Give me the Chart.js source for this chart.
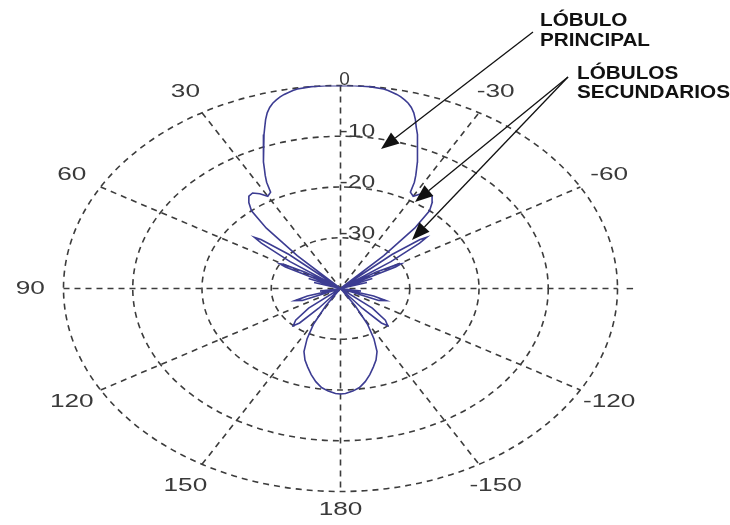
<!DOCTYPE html>
<html>
<head>
<meta charset="utf-8">
<script src="https://cdn.jsdelivr.net/npm/chart.js@4.4.1/dist/chart.umd.min.js"></script>
<style>
  html, body { margin: 0; padding: 0; background: #fff; }
  #wrap { width: 730px; height: 525px; }
</style>
</head>
<body>
<div id="wrap"><canvas id="c" width="730" height="525"></canvas></div>
<script>
// Radiation pattern: angle in degrees (0 = boresight, counter-clockwise positive)
const angleDeg = [
  -180, -178, -175, -172, -169, -166, -163, -160, -157, -154, -151, -148, -145,
  -143, -141, -139, -137, -134, -130, -126,
  -116, -113, -110, -107, -103, -100, -96,
  -76, -73, -70, -67, -64,
  -62, -61, -60, -58, -56, -54, -52, -51, -50, -48, -46,
  -44, -42, -40, -38, -36, -34, -32, -30, -28,
  -27, -26, -25, -24, -23, -22, -21, -20, -19, -18, -17, -16, -15, -14, -13, -12, -11, -10, -9, -6, -3,
  0,
  3, 6, 9, 10, 11, 12, 13, 14, 15, 16, 17, 18, 19, 20, 21, 22, 23, 24, 25, 26, 27,
  28, 30, 32, 34, 36, 38, 40, 42, 44,
  46, 48, 50, 51, 52, 54, 56, 58, 60, 61, 62,
  64, 67, 70, 73, 76,
  96, 100, 103, 107, 110, 113, 116,
  126, 130, 134, 137, 139, 141, 143,
  145, 148, 151, 154, 157, 160, 163, 166, 169, 172, 175, 178, 180
];
// Relative gain in dB at each angle (floor of the plot is -40 dB)
const gainDb = [
  -19.2, -19.3, -19.7, -20.3, -21.3, -22.5, -23.8, -25, -26.5, -29, -32, -36, -40,
  -40, -35, -31, -30, -31, -34, -40,
  -40, -34, -33, -35, -40, -37, -40,
  -40, -36, -40, -35, -40,
  -31, -30, -30.5, -34, -40, -31, -25.5, -24, -25, -30, -40,
  -31, -24, -20, -18.5, -17.5, -17.3, -18, -19, -18.5,
  -16.5, -15.2, -14, -12.7, -11.5, -10.2, -9, -7.7, -6.4, -5, -3.8, -2.9, -2.2, -1.7, -1.25, -0.9, -0.65, -0.4, -0.2, 0, 0,
  0,
  0, 0, -0.2, -0.4, -0.65, -0.9, -1.25, -1.7, -2.2, -2.9, -3.8, -5, -6.4, -7.7, -9, -10.2, -11.5, -12.7, -14, -15.2, -16.5,
  -18.5, -19, -18, -17.3, -17.5, -18.5, -20, -24, -31,
  -40, -30, -25, -24, -25.5, -31, -40, -34, -30.5, -30, -31,
  -40, -35, -40, -36, -40,
  -40, -37, -40, -35, -33, -34, -40,
  -40, -34, -31, -30, -31, -35, -40,
  -40, -36, -32, -29, -26.5, -25, -23.8, -22.5, -21.3, -20.3, -19.7, -19.3, -19.2
];
// Polar grid: dB rings and their labels, spoke angles, angular tick labels
const ringDb = [-30, -20, -10, 0];
const ringLabels = ['-30', '-20', '-10', '0'];
const spokeDeg = [0, 30, 60, 90, 120, 150];
const tickDeg = [30, 60, 90, 120, 150, 180, -150, -120, -90, -60, -30];
const tickLabels = ['30', '60', '90', '120', '150', '180', '-150', '-120', '-', '-60', '-30'];

const FLOOR = -40;
const toRad = d => d * Math.PI / 180;
const radius = db => Math.max(db, FLOOR) - FLOOR;

const patternPoints = angleDeg.map((a, i) => {
  const r = radius(gainDb[i]);
  return { x: -r * Math.sin(toRad(a)), y: r * Math.cos(toRad(a)) };
});

function stretchedText(ctx, txt, x, y, align, sx) {
  ctx.save();
  ctx.translate(x, y);
  ctx.scale(sx, 1);
  ctx.textAlign = align;
  ctx.fillText(txt, 0, 0);
  ctx.restore();
}

function arrow(ctx, x0, y0, x1, y1) {
  const ang = Math.atan2(y1 - y0, x1 - x0);
  const len = 18, half = 7;
  const bx = x1 - len * Math.cos(ang), by = y1 - len * Math.sin(ang);
  ctx.beginPath();
  ctx.moveTo(x0, y0);
  ctx.lineTo(bx, by);
  ctx.stroke();
  ctx.beginPath();
  ctx.moveTo(x1, y1);
  ctx.lineTo(bx + half * Math.sin(ang), by - half * Math.cos(ang));
  ctx.lineTo(bx - half * Math.sin(ang), by + half * Math.cos(ang));
  ctx.closePath();
  ctx.fill();
}

// distance of each angular label from the centre, as a fraction of the outer ring
function labelFactor(a) {
  if (a === 180) return 1.09;
  if (a === -90) return 1.045;
  return 1.12;
}

const polarGrid = {
  id: 'polarGrid',
  beforeDatasetsDraw(chart) {
    const { ctx, scales: { x, y } } = chart;
    const cx = x.getPixelForValue(0), cy = y.getPixelForValue(0);
    const kx = x.getPixelForValue(1) - cx, ky = cy - y.getPixelForValue(1);
    const rMax = radius(0);
    ctx.save();
    ctx.strokeStyle = '#3c3c3c';
    ctx.lineWidth = 1.6;
    ctx.setLineDash([6, 5]);
    ringDb.forEach(db => {
      const r = radius(db);
      ctx.beginPath();
      ctx.ellipse(cx, cy, r * kx, r * ky, 0, 0, Math.PI * 2);
      ctx.stroke();
    });
    spokeDeg.forEach(a => {
      const dx = -Math.sin(toRad(a)) * rMax * kx, dy = -Math.cos(toRad(a)) * rMax * ky;
      ctx.beginPath();
      ctx.moveTo(cx + dx, cy + dy);
      ctx.lineTo(cx - dx, cy - dy);
      ctx.stroke();
    });
    ctx.restore();
  },
  afterDatasetsDraw(chart) {
    const { ctx, scales: { x, y } } = chart;
    const cx = x.getPixelForValue(0), cy = y.getPixelForValue(0);
    const kx = x.getPixelForValue(1) - cx, ky = cy - y.getPixelForValue(1);
    const rMax = radius(0);
    ctx.save();
    ctx.fillStyle = '#3a3a3a';
    ctx.font = '19px "Liberation Sans", Arial, sans-serif';
    ctx.textBaseline = 'middle';
    tickDeg.forEach((a, i) => {
      const f = labelFactor(a);
      const px = cx - Math.sin(toRad(a)) * rMax * f * kx;
      const py = cy - Math.cos(toRad(a)) * rMax * f * ky;
      stretchedText(ctx, tickLabels[i], px, py, 'center', 1.38);
    });
    ringDb.forEach((db, i) => {
      const r = radius(db);
      const py = cy - r * ky;
      if (db === 0) {
        stretchedText(ctx, ringLabels[i], cx + 4, py - 6, 'center', 1.0);
      } else {
        stretchedText(ctx, ringLabels[i], cx - 1, py - 4, 'left', 1.3);
      }
    });
    // Callouts
    ctx.fillStyle = '#111';
    ctx.strokeStyle = '#111';
    ctx.lineWidth = 1.3;
    ctx.font = 'bold 18px "Liberation Sans", Arial, sans-serif';
    ctx.textBaseline = 'alphabetic';
    stretchedText(ctx, 'LÓBULO', 540, 26, 'left', 1.15);
    stretchedText(ctx, 'PRINCIPAL', 540, 46, 'left', 1.15);
    stretchedText(ctx, 'LÓBULOS', 577, 79, 'left', 1.15);
    stretchedText(ctx, 'SECUNDARIOS', 577, 98, 'left', 1.15);
    arrow(ctx, 533, 32, 381, 149);
    arrow(ctx, 568, 77, 415, 202);
    arrow(ctx, 568, 77, 412, 240);
    ctx.restore();
  }
};

new Chart(document.getElementById('c'), {
  type: 'scatter',
  data: {
    datasets: [{
      data: patternPoints,
      showLine: true,
      borderColor: '#3c3c92',
      borderWidth: 1.6,
      pointRadius: 0,
      tension: 0,
      fill: false
    }]
  },
  options: {
    responsive: false,
    animation: false,
    layout: { padding: { left: 63.5, right: 112.5, top: 85.5, bottom: 33.5 } },
    plugins: { legend: { display: false }, tooltip: { enabled: false } },
    scales: {
      x: { type: 'linear', min: -40, max: 40, display: false },
      y: { type: 'linear', min: -40, max: 40, display: false }
    }
  },
  plugins: [polarGrid]
});
</script>
</body>
</html>
